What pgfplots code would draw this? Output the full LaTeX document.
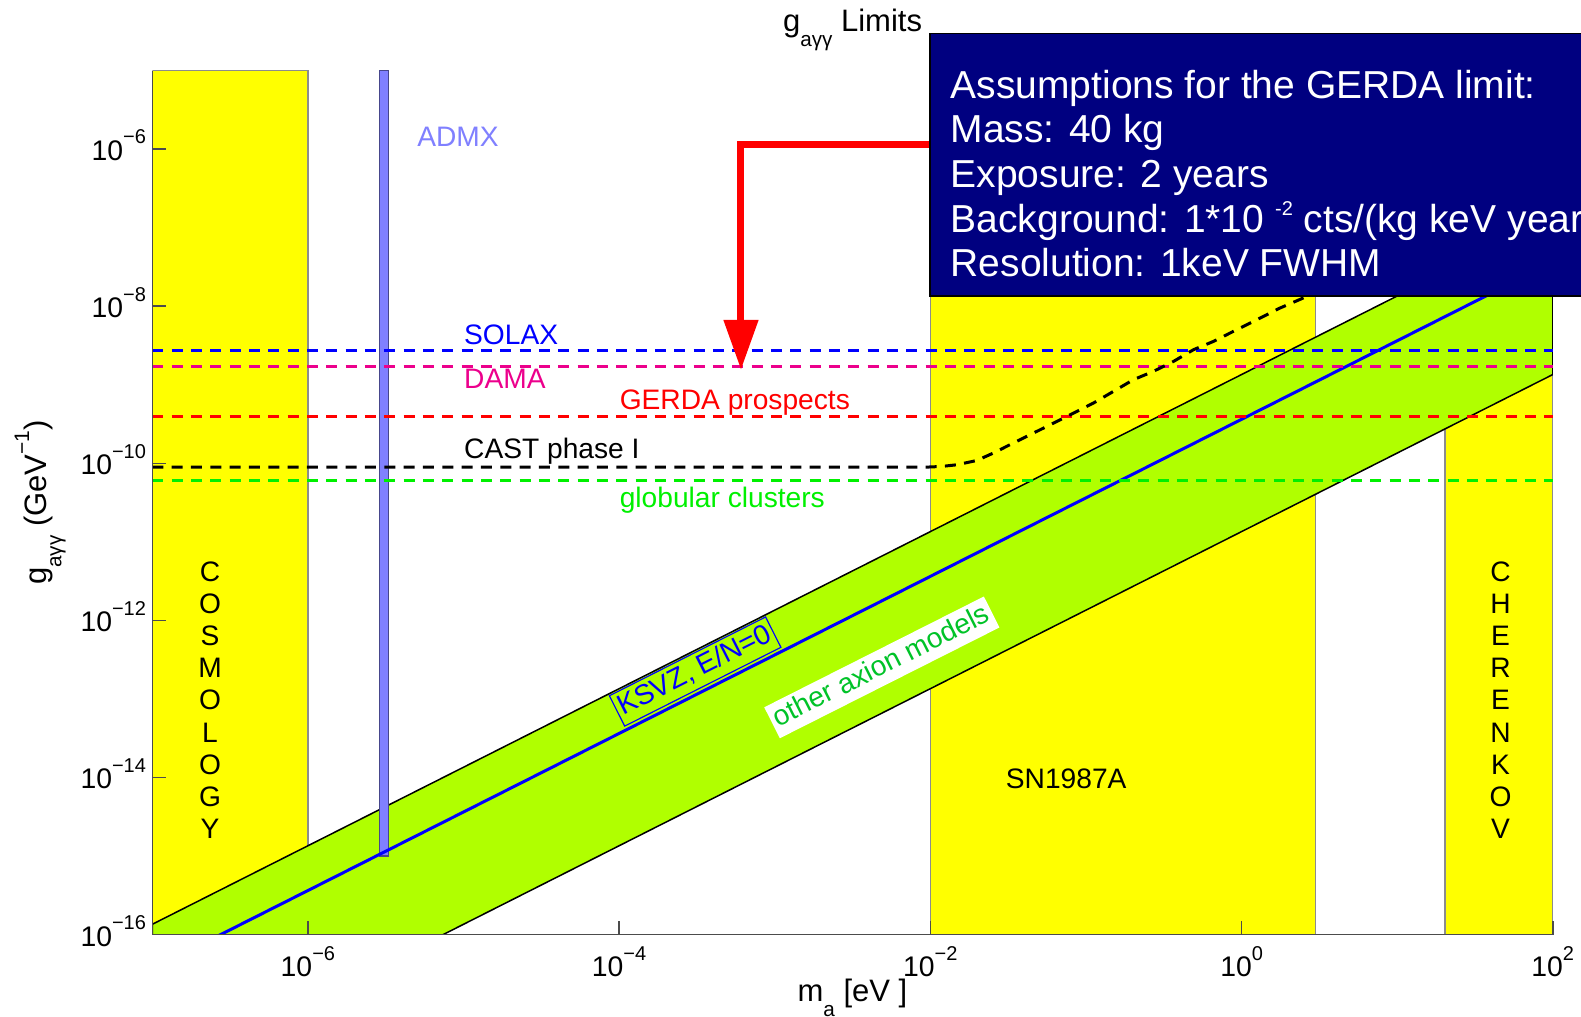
\documentclass[border=0pt]{standalone}
\usepackage{pgfplots}
\pgfplotsset{compat=1.18}
\usepackage{fontspec}
\setmainfont{Liberation Sans}
\usetikzlibrary{arrows.meta}
\definecolor{cyel}{RGB}{255,255,0}
\definecolor{cband}{RGB}{176,255,0}
\definecolor{cadmx}{RGB}{128,128,255}
\definecolor{cnavy}{RGB}{0,0,128}
\definecolor{cgreen}{RGB}{0,240,0}
\definecolor{cgreen2}{RGB}{0,195,40}
\newcommand\fs[1]{\fontsize{#1}{#1}\selectfont}
\newcommand\tsup[1]{\raisebox{5pt}{\fs{6}#1}}
\newcommand\lsub[1]{\raisebox{-4.4pt}{\fs{6.2}#1}}
\newcommand\lsup[1]{\raisebox{5.3pt}{\fs{6.3}#1}}
\begin{document}
\begin{tikzpicture}
\begin{axis}[
  scale only axis, width=420.15pt, height=259.17pt,
  xmode=log, ymode=log,
  xmin=1e-7, xmax=1e2, ymin=1e-16, ymax=1e-5,
  axis x line*=bottom, axis y line*=left,
  axis line style={-, draw=black!70, line width=0.45pt},
  every outer x axis line/.append style={-},
  every outer y axis line/.append style={-},
  axis on top,
  tick align=inside, major tick length=4.1pt,
  major tick style={draw=black!70, line width=0.45pt},
  minor tick style={draw=none},
  xtick={1e-6,1e-4,1e-2,1,1e2},
  xticklabels={10\tsup{−6},10\tsup{−4},10\tsup{−2},10\tsup{0},10\tsup{2}},
  ytick={1e-16,1e-14,1e-12,1e-10,1e-8,1e-6},
  yticklabels={10\tsup{−16},10\tsup{−14},10\tsup{−12},10\tsup{−10},10\tsup{−8},10\tsup{−6}},
  tick label style={font=\fs{8.5}},
  xticklabel style={anchor=base, inner sep=0pt, yshift=-12.7pt},
  yticklabel style={anchor=base east, inner sep=0pt, xshift=-1.7pt, yshift=-3.45pt},
]
\coordinate (O) at (rel axis cs:0,0);
% yellow excluded regions
\addplot[fill=cyel, draw=black!45, line width=0.4pt] coordinates {(1e-7,1e-16)(1e-6,1e-16)(1e-6,1e-5)(1e-7,1e-5)} -- cycle;
\addplot[fill=cyel, draw=black!45, line width=0.4pt] coordinates {(1e-2,1e-16)(3,1e-16)(3,1e-5)(1e-2,1e-5)} -- cycle;
\addplot[fill=cyel, draw=black!45, line width=0.4pt] coordinates {(20.3,1e-16)(100,1e-16)(100,1e-5)(20.3,1e-5)} -- cycle;
% axion model band
\addplot[fill=cband, draw=black, line width=0.45pt] coordinates {(1e-7,1.349e-16)(1e2,1.349e-7)(1e2,1.349e-9)(1e-7,1.349e-18)} -- cycle;
% ADMX
\addplot[fill=cadmx, draw=black!45!cadmx, line width=0.4pt] coordinates {(2.88e-6,1e-15)(3.30e-6,1e-15)(3.30e-6,1e-5)(2.88e-6,1e-5)} -- cycle;
% KSVZ
\addplot[blue, line width=0.9pt] coordinates {(1e-7,3.63e-17)(1e2,3.63e-8)};
% dashed limits
\addplot[blue, line width=0.9pt, dash pattern=on 3.3pt off 2.5pt] coordinates {(1e-7,2.73e-9)(1e2,2.73e-9)};
\addplot[magenta, line width=0.9pt, dash pattern=on 3.3pt off 2.5pt] coordinates {(1e-7,1.69e-9)(1e2,1.69e-9)};
\addplot[red, line width=0.9pt, dash pattern=on 3.3pt off 2.5pt] coordinates {(1e-7,3.94e-10)(1e2,3.94e-10)};
\addplot[cgreen, line width=0.9pt, dash pattern=on 3.3pt off 2.5pt] coordinates {(1e-7,6.04e-11)(1e2,6.04e-11)};
\addplot[black, line width=0.9pt, dash pattern=on 3.3pt off 2.5pt, line join=round] coordinates {
(1e-7,8.95e-11)(8.0e-3,8.95e-11)(1.0e-2,8.97e-11)(1.2e-2,9.15e-11)(1.479e-2,9.57e-11)(1.99e-2,1.086e-10)(2.54e-2,1.35e-10)
(3.41e-2,1.81e-10)(5.07e-2,2.67e-10)(7.52e-2,3.94e-10)(0.1114,5.83e-10)(0.150,8.22e-10)
(0.2018,1.16e-9)(0.271,1.48e-9)(0.365,1.98e-9)(0.490,2.79e-9)(0.659,3.56e-9)(0.885,4.78e-9)
(1.253,6.73e-9)(1.766,9.48e-9)(2.624,1.33e-8)(3.548,1.778e-8)};
% arrow
\addplot[red, line width=2.1pt, line join=miter, -{Triangle[length=15pt, width=10pt]}] coordinates {(1e-2,1.16e-6)(6.07e-4,1.16e-6)(6.07e-4,1.55e-9)};
% labels
\node[anchor=base west, inner sep=0, text=cadmx, font=\fs{8.45}] at (axis cs:5.0e-6,1.09e-6) {ADMX};
\node[anchor=base west, inner sep=0, text=blue, font=\fs{8.45}] at (axis cs:1e-5,3.30e-9) {SOLAX};
\node[anchor=base west, inner sep=0, text=magenta, font=\fs{8.45}] at (axis cs:1e-5,8.89e-10) {DAMA};
\node[anchor=base west, inner sep=0, text=red, font=\fs{8.45}] at (axis cs:1e-4,4.81e-10) {GERDA prospects};
\node[anchor=base west, inner sep=0, text=black, font=\fs{8.45}] at (axis cs:1e-5,1.14e-10) {CAST phase I};
\node[anchor=base west, inner sep=0, text=cgreen, font=\fs{8.45}] at (axis cs:1e-4,2.77e-11) {globular clusters};
\node[anchor=base west, inner sep=0, text=black, font=\fs{8.45}] at (axis cs:3.03e-2,7.24e-15) {SN1987A};
\node[align=center, inner sep=0, font=\fontsize{8.45}{9.63}\selectfont] at (axis cs:2.35e-7,9.64e-14) {C\\O\\S\\M\\O\\L\\O\\G\\Y};
\node[align=center, inner sep=0, font=\fontsize{8.45}{9.63}\selectfont] at (axis cs:46.1,9.64e-14) {C\\H\\E\\R\\E\\N\\K\\O\\V};
\node[rotate=26.77, draw=blue, line width=0.35pt, text=blue, inner xsep=1pt, inner ysep=1pt, text height=6.3pt, text depth=1.9pt, font=\fs{8.45}] at (axis cs:3.08e-4,2.23e-13) {KSVZ, E/N=0};
\node[rotate=26.77, fill=white, text=cgreen2, inner xsep=1.2pt, inner ysep=1.1pt, text height=6.3pt, text depth=1.9pt, font=\fs{8.45}] at (axis cs:4.88e-3,2.52e-13) {other axion models};
\end{axis}
\begin{scope}[shift={(O)}, x=0.3pt, y=0.3pt]
  \filldraw[fill=cnavy, draw=black, line width=0.4pt] (777.7,638.5) rectangle (1600,901.2);
  \node[anchor=base west, inner sep=0, text=white, font=\fs{11.7}] at (797.7,836.2) {Assumptions for the GERDA limit:};
  \node[anchor=base west, inner sep=0, text=white, font=\fs{11.7}] at (797.7,791.6) {Mass: 40 kg};
  \node[anchor=base west, inner sep=0, text=white, font=\fs{11.7}] at (797.7,747.0) {Exposure: 2 years};
  \node[anchor=base west, inner sep=0, text=white, font=\fs{11.7}] at (797.7,702.4) {Background: 1*10 \raisebox{5pt}{\fs{6}-2} cts/(kg keV year)};
  \node[anchor=base west, inner sep=0, text=white, font=\fs{11.7}] at (797.7,657.8) {Resolution: 1keV FWHM};
  \node[anchor=base, inner sep=0, font=\fs{9.3}] at (700.25,902.8) {g\lsub{aγγ} Limits};
  \node[anchor=base, inner sep=0, font=\fs{9.3}] at (700.2,-67.2) {m\lsub{a} [eV ]};
  \node[rotate=90, anchor=base, inner sep=0, font=\fs{9.3}] at (-105.6,432) {g\lsub{aγγ} (GeV\lsup{−1})};
  \pgfresetboundingbox
  \path[use as bounding box] (-152.3,-82.5) rectangle (1428.7,934.5);
\end{scope}
\end{tikzpicture}
\end{document}
